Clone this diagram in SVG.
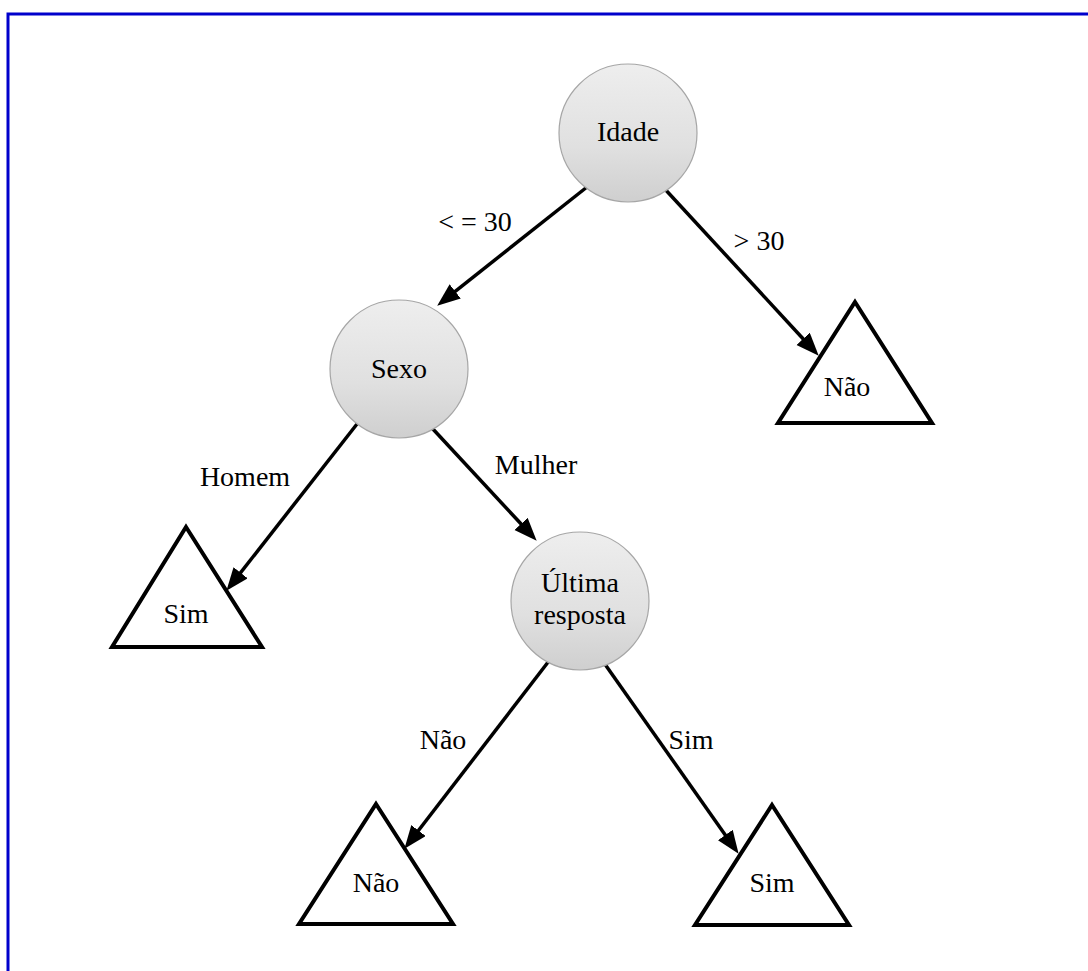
<svg xmlns="http://www.w3.org/2000/svg" width="1088" height="971" viewBox="0 0 1088 971">
  <style>
    text { font-family: "Liberation Serif", "Times New Roman", serif; font-size: 28px; fill: #000; text-anchor: middle; }
    .decision { fill: url(#nodeFill); stroke: #a6a6a6; stroke-width: 1.2; }
    .leaf { fill: #fff; stroke: #000; stroke-width: 4; stroke-linejoin: miter; }
    .edge { stroke: #000; stroke-width: 3.5; fill: none; marker-end: url(#arrow); }
  </style>
  <defs>
    <linearGradient id="nodeFill" x1="0" y1="0" x2="0" y2="1">
      <stop offset="0" stop-color="#eeeeee"/>
      <stop offset="0.6" stop-color="#e0e0e0"/>
      <stop offset="1" stop-color="#cfcfcf"/>
    </linearGradient>
    <marker id="arrow" markerUnits="userSpaceOnUse" markerWidth="24" markerHeight="20" refX="6" refY="9" orient="auto">
      <path d="M0,0 L23,9 L0,18 Z" fill="#000"/>
    </marker>
  </defs>

  <rect x="0" y="0" width="1088" height="971" fill="#fff"/>
  <!-- frame -->
  <rect x="8" y="14" width="1100" height="980" fill="none" stroke="#0000cc" stroke-width="3"/>

  <!-- connectors -->
  <g id="connectors">
    <line class="edge" x1="587" y1="187" x2="450.5" y2="295.1"/>
    <line class="edge" x1="663" y1="187" x2="807.2" y2="343.2"/>
    <line class="edge" x1="357" y1="424" x2="236.9" y2="577.4"/>
    <line class="edge" x1="432" y1="428" x2="525.1" y2="528.3"/>
    <line class="edge" x1="552" y1="657" x2="414.8" y2="835.3"/>
    <line class="edge" x1="602" y1="660" x2="728.8" y2="839.9"/>
    <text x="475" y="231">&lt; = 30</text>
    <text x="759" y="250">&gt; 30</text>
    <text x="245" y="486">Homem</text>
    <text x="536" y="474">Mulher</text>
    <text x="443" y="749">Não</text>
    <text x="691" y="749">Sim</text>
  </g>

  <g id="node-idade">
    <circle class="decision" cx="628" cy="133" r="69"/>
    <text x="628" y="141">Idade</text>
  </g>
  <g id="node-sexo">
    <circle class="decision" cx="399" cy="369" r="69"/>
    <text x="399" y="378">Sexo</text>
  </g>
  <g id="node-ultima-resposta">
    <circle class="decision" cx="580" cy="601" r="69"/>
    <text x="580" y="592">Última</text>
    <text x="580" y="624">resposta</text>
  </g>
  <g id="leaf-nao-idade">
    <polygon class="leaf" points="855,302 932,423 778,423"/>
    <text x="847" y="396">Não</text>
  </g>
  <g id="leaf-sim-sexo">
    <polygon class="leaf" points="186,527 262,647 112,647"/>
    <text x="186" y="623">Sim</text>
  </g>
  <g id="leaf-nao-resposta">
    <polygon class="leaf" points="376,804 453,924 299,924"/>
    <text x="376" y="892">Não</text>
  </g>
  <g id="leaf-sim-resposta">
    <polygon class="leaf" points="772,805 849,925 695,925"/>
    <text x="772" y="892">Sim</text>
  </g>
</svg>
